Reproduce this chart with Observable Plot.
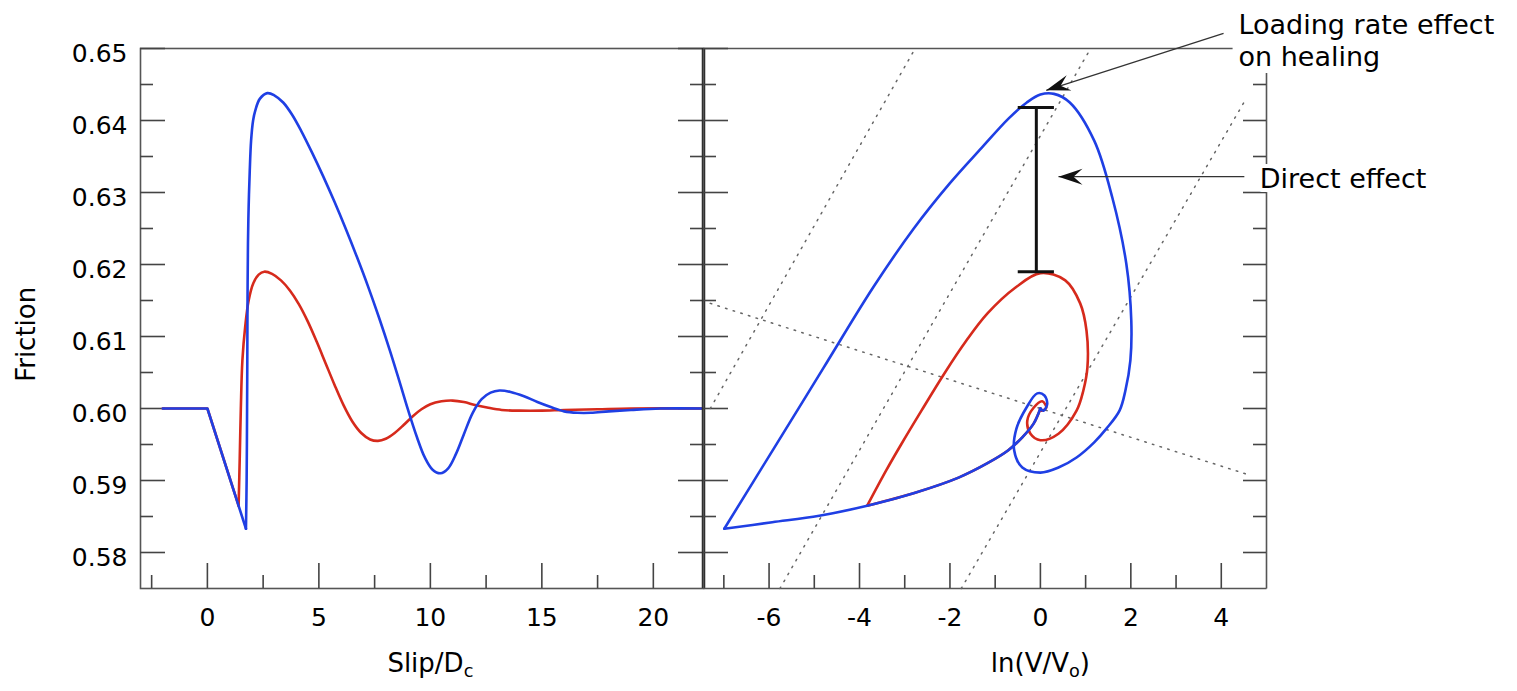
<!DOCTYPE html>
<html><head><meta charset="utf-8">
<script src="https://cdn.jsdelivr.net/npm/d3@7"></script>
<script src="https://cdn.jsdelivr.net/npm/@observablehq/plot@0.6"></script>
<style>
body{margin:0;background:#fff;}
#wrap{position:relative;width:1517px;height:691px;overflow:hidden;background:#fff;}
#wrap svg{position:absolute;top:0;max-width:none;}
</style></head><body><div id="wrap"></div>
<script>
// ---------- data ----------
// Left panel: friction vs Slip/Dc
const leftSlipRed = [-2, 0, 1.40, 1.45, 1.50, 1.57, 1.70, 1.85, 2.06, 2.30, 2.55, 2.90, 3.30, 3.70, 4.10, 4.50, 4.90, 5.30, 5.70, 6.10, 6.50, 6.90, 7.30, 7.65, 8.00, 8.40, 8.80, 9.20, 9.60, 10.00, 10.50, 11.00, 11.50, 12.00, 12.60, 13.20, 14.00, 15.00, 16.00, 17.50, 19.00, 22.25];
const leftFricRed = [0.600, 0.600, 0.5865, 0.5930, 0.6000, 0.6067, 0.6115, 0.6150, 0.6174, 0.6186, 0.6190, 0.6187, 0.6178, 0.6164, 0.6145, 0.6121, 0.6093, 0.6063, 0.6033, 0.6005, 0.5982, 0.5966, 0.5957, 0.5955, 0.5958, 0.5966, 0.5977, 0.5989, 0.5999, 0.6006, 0.6010, 0.6011, 0.6009, 0.6005, 0.6001, 0.5998, 0.5997, 0.5997, 0.5998, 0.5999, 0.6000, 0.6000];
const leftSlipBlue = [-2, 0, 1.73, 1.76, 1.78, 1.79, 1.80, 1.82, 1.85, 1.90, 1.96, 2.05, 2.15, 2.35, 2.69, 3.00, 3.40, 3.80, 4.20, 4.70, 5.20, 5.70, 6.20, 6.70, 7.20, 7.70, 8.20, 8.60, 9.00, 9.40, 9.75, 10.10, 10.45, 10.80, 11.15, 11.50, 11.90, 12.30, 12.70, 13.10, 13.60, 14.20, 14.80, 15.40, 16.00, 16.60, 17.20, 18.00, 19.00, 20.30, 22.25];
const leftFricBlue = [0.600, 0.600, 0.5833, 0.5900, 0.6000, 0.6067, 0.6150, 0.6230, 0.6280, 0.6330, 0.6372, 0.6400, 0.6414, 0.6430, 0.6438, 0.6435, 0.6425, 0.6408, 0.6386, 0.6355, 0.6322, 0.6287, 0.6250, 0.6211, 0.6170, 0.6126, 0.6079, 0.6039, 0.5998, 0.5960, 0.5932, 0.5915, 0.5910, 0.5917, 0.5937, 0.5964, 0.5994, 0.6013, 0.6022, 0.6025, 0.6023, 0.6017, 0.6009, 0.6002, 0.5996, 0.5994, 0.5994, 0.5996, 0.5998, 0.6000, 0.6000];

// Right panel: friction vs ln(V/Vo) (phase plane)
const phaseLnVRed = [0, -0.15, -0.40, -0.71, -1.17, -1.81, -2.77, -3.83, -3.41, -3.08, -2.63, -2.12, -1.64, -1.17, -0.55, 0, 0.55, 0.88, 1.02, 1.04, 0.95, 0.80, 0.40, 0, -0.22, -0.29, -0.15, 0.04, 0.13, 0.02, 0];
const phaseFricRed = [0.6000, 0.5979, 0.5960, 0.5942, 0.5924, 0.5904, 0.5883, 0.5865, 0.5914, 0.5950, 0.5997, 0.6049, 0.6094, 0.6132, 0.6168, 0.6188, 0.6178, 0.6146, 0.6108, 0.6057, 0.6025, 0.5997, 0.5965, 0.5956, 0.5965, 0.5983, 0.6001, 0.6010, 0.6001, 0.5997, 0.6000];
const phaseLnVBlue = [0, -0.15, -0.40, -0.71, -1.17, -1.81, -2.77, -3.83, -4.89, -5.93, -6.99, -5.90, -4.80, -3.70, -2.80, -2.00, -1.30, -0.70, -0.30, 0, 0.30, 0.65, 1.19, 1.59, 1.90, 2.01, 1.99, 1.88, 1.75, 1.46, 1.19, 0.80, 0.40, 0, -0.40, -0.58, -0.53, -0.31, -0.07, 0.09, 0.15, 0.07, 0];
const phaseFricBlue = [0.6000, 0.5979, 0.5960, 0.5942, 0.5924, 0.5904, 0.5883, 0.5865, 0.5851, 0.5842, 0.5833, 0.5944, 0.6056, 0.6168, 0.6250, 0.6313, 0.6362, 0.6403, 0.6425, 0.6436, 0.6437, 0.6425, 0.6372, 0.6293, 0.6201, 0.6122, 0.6067, 0.6025, 0.5997, 0.5972, 0.5953, 0.5932, 0.5918, 0.5911, 0.5918, 0.5942, 0.5972, 0.6001, 0.6021, 0.6018, 0.6006, 0.5997, 0.6000];

// dotted guide lines in phase plane (endpoints)
const guideX1 = [-7.30, -5.76, -1.75, -7.30];
const guideY1 = [0.6000, 0.5750, 0.5750, 0.6146];
const guideX2 = [-2.77, 1.11, 4.50, 4.60];
const guideY2 = [0.6500, 0.6500, 0.6425, 0.5908];

// "direct effect" bar
const directLnV = [-0.09];
const directLow = [0.6190];
const directHigh = [0.6418];

// annotations
const noteText = ["Loading rate effect", "on healing", "Direct effect"];
const noteLnV = [4.38, 4.38, 4.85];
const noteFric = [0.65328, 0.64883, 0.63189];
const arrowX1 = [4.05, 4.51];
const arrowY1 = [0.6521, 0.6322];
const arrowX2 = [0.13, 0.40];
const arrowY2 = [0.6442, 0.6322];

// ticks
const yMajor = [0.58, 0.59, 0.60, 0.61, 0.62, 0.63, 0.64, 0.65];
const yMinor = [0.585, 0.595, 0.605, 0.615, 0.625, 0.635, 0.645];
const slipMajor = [0, 5, 10, 15, 20];
const slipMinor = [-2.5, 2.5, 7.5, 12.5, 17.5];
const lnvMajor = [-6, -4, -2, 0, 2, 4];
const lnvMinor = [-7, -5, -3, -1, 1, 3];

// ---------- layout / style ----------
const RED = "#d62a1c", BLUE = "#1f3fe4", TICK = "#444", FRAME = "#555";
const LW = 2.6;
const H = 691, MT = 48, MB = 103;
const innerH = H - MT - MB;           // 540
const innerW = 563;
const FONT = "DejaVu Sans";
const yDomain = [0.575, 0.65];
const slipDomain = [-3, 22.25];
const lnvDomain = [-7.45, 5.0];
const topLineEnd = 4.25;     // top border of phase panel stops at the annotation
const rightLineTop = 0.6466; // right border of phase panel starts below the annotation

function rows(xs, ys) { return xs.map((x, i) => ({x, y: ys[i]})); }
function splitAtMin(xs, ys) {
  const r = rows(xs, ys);
  const k = d3.minIndex(ys);
  return [r.slice(0, k + 1), r.slice(k)];
}
function tickMarks(major, minor, sideMajor, sideMinor, dir) {
  const o = {stroke: TICK, strokeWidth: 1.6};
  if (dir === "bottom") return [
    Plot.ruleX(major, {...o, insetTop: innerH - sideMajor}),
    Plot.ruleX(minor, {...o, insetTop: innerH - sideMinor})];
  if (dir === "left") return [
    Plot.ruleY(major, {...o, insetRight: innerW - sideMajor}),
    Plot.ruleY(minor, {...o, insetRight: innerW - sideMinor})];
  return [
    Plot.ruleY(major, {...o, insetLeft: innerW - sideMajor}),
    Plot.ruleY(minor, {...o, insetLeft: innerW - sideMinor})];
}
const baseStyle = {background: "transparent", fontFamily: FONT, fontSize: "25px", color: "#000"};

// ---------- left panel ----------
const [redDrop, redRise] = splitAtMin(leftSlipRed, leftFricRed);
const [blueDrop, blueRise] = splitAtMin(leftSlipBlue, leftFricBlue);

const left = Plot.plot({
  width: 713, height: H,
  marginLeft: 140, marginRight: 10, marginTop: MT, marginBottom: MB,
  x: {domain: slipDomain},
  y: {domain: yDomain},
  axis: null,
  style: baseStyle,
  marks: [
    Plot.frame({stroke: FRAME, strokeWidth: 1.6}),
    ...tickMarks(slipMajor, slipMinor, 25, 13, "bottom"),
    ...tickMarks(yMajor, yMinor, 25, 13, "left"),
    ...tickMarks(yMajor, yMinor, 25, 13, "right"),
    Plot.line(redDrop, {x: "x", y: "y", stroke: RED, strokeWidth: LW}),
    Plot.line(redRise, {x: "x", y: "y", stroke: RED, strokeWidth: LW, curve: "catmull-rom"}),
    Plot.line(blueDrop, {x: "x", y: "y", stroke: BLUE, strokeWidth: LW}),
    Plot.line(blueRise, {x: "x", y: "y", stroke: BLUE, strokeWidth: LW, curve: "catmull-rom"}),
    Plot.ruleX([slipDomain[1]], {stroke: "#222", strokeWidth: 3.5}),
    Plot.axisY(yMajor, {anchor: "left", tickSize: 0, tickPadding: 13, tickFormat: d3.format(".2f"), dy: 5, label: null}),
    Plot.axisX(slipMajor, {anchor: "bottom", tickSize: 0, tickPadding: 20, tickFormat: d => String(d), label: null}),
    Plot.text(["Friction"], {text: d => d, y: [0.6103], frameAnchor: "left", textAnchor: "middle", lineAnchor: "middle", rotate: -90, dx: -114, fontSize: 26}),
    Plot.text(["Slip/Dc"], {text: d => d, x: [10], frameAnchor: "bottom", textAnchor: "middle", lineAnchor: "middle", dy: 75, fontSize: 26})
  ]
});

// ---------- right panel ----------
const [redLow, redUp] = splitAtMin(phaseLnVRed, phaseFricRed);
const [blueLow, blueUp] = splitAtMin(phaseLnVBlue, phaseFricBlue);
const guides = guideX1.map((x, i) => ({x1: x, y1: guideY1[i], x2: guideX2[i], y2: guideY2[i]}));
const bar = directLnV.map((x, i) => ({x, lo: directLow[i], hi: directHigh[i]}));
const CAP = 0.4;
const notes = noteText.map((t, i) => ({t, x: noteLnV[i], y: noteFric[i]}));
const arrows = arrowX1.map((x, i) => ({x1: x, y1: arrowY1[i], x2: arrowX2[i], y2: arrowY2[i]}));
const border = [
  {x1: lnvDomain[0], y1: yDomain[0], x2: lnvDomain[1], y2: yDomain[0]},
  {x1: lnvDomain[0], y1: yDomain[0], x2: lnvDomain[0], y2: yDomain[1]},
  {x1: lnvDomain[0], y1: yDomain[1], x2: topLineEnd, y2: yDomain[1]},
  {x1: lnvDomain[1], y1: yDomain[0], x2: lnvDomain[1], y2: rightLineTop}
];
const rightMajor = yMajor.filter(v => v < rightLineTop);
const rightMinor = yMinor.filter(v => v < rightLineTop);

// filled concave arrowheads, oriented along each arrow (screen angle from scale ratios)
const kx = innerW / (lnvDomain[1] - lnvDomain[0]);
const ky = innerH / (yDomain[1] - yDomain[0]);
function headSymbol(theta) {
  const L = 24, W = 8, B = 15;
  const c = Math.cos(theta), s = Math.sin(theta);
  const p = (x, y) => [x * c - y * s, x * s + y * c];
  return {draw(ctx) {
    ctx.moveTo(...p(0, 0)); ctx.lineTo(...p(-L, -W)); ctx.lineTo(...p(-B, 0));
    ctx.lineTo(...p(-L, W)); ctx.closePath();
  }};
}
const headMarks = arrows.map(a => {
  const theta = Math.atan2(-(a.y2 - a.y1) * ky, (a.x2 - a.x1) * kx);
  return Plot.dot([a], {x: "x2", y: "y2", r: 10, symbol: headSymbol(theta), fill: "#111", stroke: "none"});
});

const right = Plot.plot({
  width: 824, height: H,
  marginLeft: 10, marginRight: 251, marginTop: MT, marginBottom: MB,
  x: {domain: lnvDomain},
  y: {domain: yDomain},
  axis: null,
  style: baseStyle,
  marks: [
    Plot.link(border, {x1: "x1", y1: "y1", x2: "x2", y2: "y2", stroke: FRAME, strokeWidth: 1.6}),
    ...tickMarks(lnvMajor, lnvMinor, 25, 13, "bottom"),
    ...tickMarks(yMajor, yMinor, 25, 13, "left"),
    ...tickMarks(rightMajor, rightMinor, 23, 13, "right"),
    Plot.link(guides, {x1: "x1", y1: "y1", x2: "x2", y2: "y2", stroke: "#666", strokeWidth: 1.5, strokeDasharray: "1.5,6.5", strokeLinecap: "round"}),
    Plot.line(redLow, {x: "x", y: "y", stroke: RED, strokeWidth: LW, curve: "catmull-rom"}),
    Plot.line(redUp, {x: "x", y: "y", stroke: RED, strokeWidth: LW, curve: "catmull-rom"}),
    Plot.line(blueLow, {x: "x", y: "y", stroke: BLUE, strokeWidth: LW, curve: "catmull-rom"}),
    Plot.line(blueUp, {x: "x", y: "y", stroke: BLUE, strokeWidth: LW, curve: "catmull-rom"}),
    Plot.ruleX(bar, {x: "x", y1: "lo", y2: "hi", stroke: "#111", strokeWidth: 3}),
    Plot.ruleY(bar, {y: "lo", x1: d => d.x - CAP, x2: d => d.x + CAP, stroke: "#111", strokeWidth: 3}),
    Plot.ruleY(bar, {y: "hi", x1: d => d.x - CAP, x2: d => d.x + CAP, stroke: "#111", strokeWidth: 3}),
    Plot.text(notes, {x: "x", y: "y", text: "t", textAnchor: "start", lineAnchor: "middle", fontSize: 27, fill: "#000", stroke: "white", strokeWidth: 8}),
    Plot.link(arrows, {x1: "x1", y1: "y1", x2: "x2", y2: "y2", stroke: "#333", strokeWidth: 1.3}),
    ...headMarks,
    Plot.axisX(lnvMajor, {anchor: "bottom", tickSize: 0, tickPadding: 20, tickFormat: d => String(d), label: null}),
    Plot.text(["ln(V/Vo)"], {text: d => d, x: [0], frameAnchor: "bottom", textAnchor: "middle", lineAnchor: "middle", dy: 75, fontSize: 26})
  ]
});

const wrap = document.getElementById("wrap");
left.style.left = "0px";
right.style.left = "693px";
wrap.appendChild(left);
wrap.appendChild(right);

// subscripts in axis titles
function subscript(svg, full, pre, sub, post) {
  d3.select(svg).selectAll("text").each(function () {
    if (this.textContent === full) {
      const t = d3.select(this);
      t.text(null);
      t.append("tspan").text(pre);
      t.append("tspan").attr("dy", "0.3em").attr("font-size", "0.68em").text(sub);
      if (post) t.append("tspan").attr("dy", "-0.2em").attr("font-size", "1em").text(post);
    }
  });
}
subscript(left, "Slip/Dc", "Slip/D", "c", "");
subscript(right, "ln(V/Vo)", "ln(V/V", "o", ")");
</script>
</body></html>
